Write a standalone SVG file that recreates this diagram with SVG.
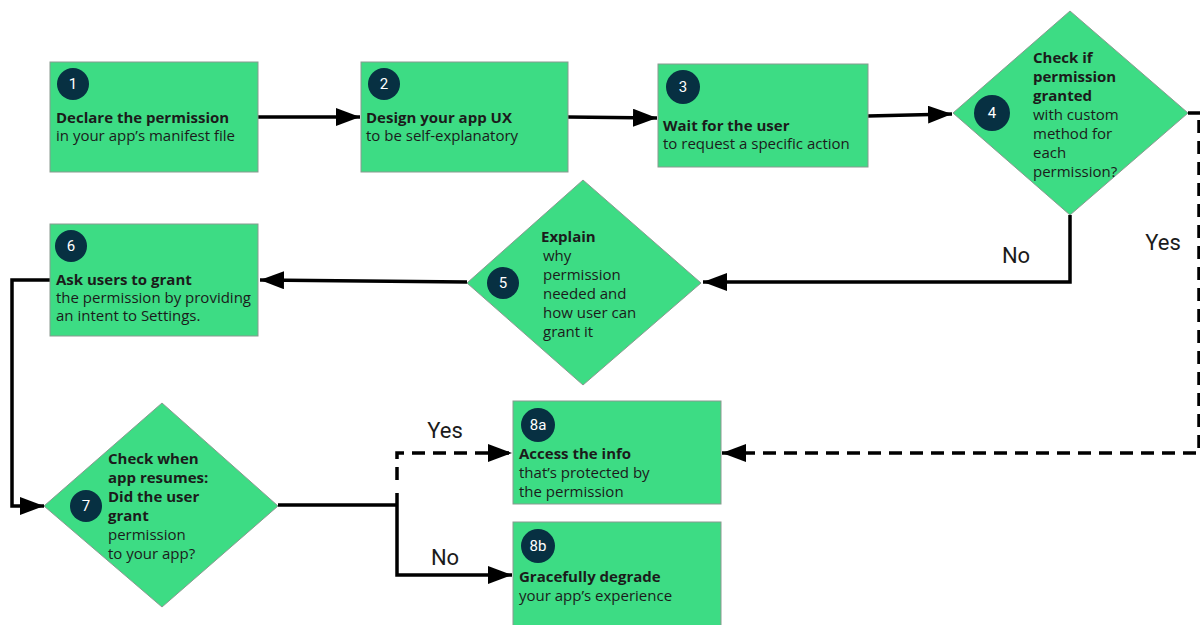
<svg xmlns="http://www.w3.org/2000/svg" width="1200" height="625" viewBox="0 0 1200 625">
<defs>
<style>
.box{fill:#3ddc84;stroke:#8a9a90;stroke-width:1}
.num{fill:#073042}
.numt{fill:#ffffff;font-family:Roboto,"Liberation Sans",sans-serif;font-size:15px;text-anchor:middle}
.t{fill:#1b1b1b;font-family:"Open Sans","Liberation Sans",sans-serif;font-size:15px}
.b{font-weight:bold}
.ln{fill:none;stroke:#000;stroke-width:3.5}
.dash{stroke-dasharray:13 8}
.lbl{fill:#1b1b1b;font-family:Roboto,"Liberation Sans",sans-serif;font-size:22px;text-anchor:middle}
</style>
<marker id="ah" markerUnits="userSpaceOnUse" markerWidth="24" markerHeight="18" refX="24" refY="9" orient="auto">
<path d="M0,0 L24,9 L0,18 z" fill="#000"/>
</marker>
</defs>
<rect width="1200" height="625" fill="#fff"/>

<g id="connectors">
<line class="ln" x1="258" y1="117" x2="360" y2="117" marker-end="url(#ah)"/>
<line class="ln" x1="568" y1="117" x2="657" y2="118" marker-end="url(#ah)"/>
<line class="ln" x1="868" y1="116" x2="952" y2="114" marker-end="url(#ah)"/>
<polyline class="ln" points="1188,113 1200,113"/>
<polyline class="ln dash" points="1199,120 1199,453 722,453" marker-end="url(#ah)"/>
<polyline class="ln" points="1070,215 1070,282 703,282" marker-end="url(#ah)"/>
<line class="ln" x1="467" y1="282" x2="260" y2="280" marker-end="url(#ah)"/>
<polyline class="ln" points="50,280 12,280 12,506 44,506" marker-end="url(#ah)"/>
<polyline class="ln" points="278,505 397,505"/>
<polyline class="ln" points="397,493 397,575 512,575" marker-end="url(#ah)"/>
<polyline class="ln dash" points="397,480 397,453 512,453" marker-end="url(#ah)"/>
<text class="lbl" x="1163" y="250">Yes</text>
<text class="lbl" x="1016" y="263">No</text>
<text class="lbl" x="445" y="438">Yes</text>
<text class="lbl" x="445" y="565">No</text>
</g>

<g id="n1">
<rect class="box" x="50" y="62" width="208" height="110"/>
<circle class="num" cx="73" cy="84" r="16"/>
<text class="numt" x="73" y="89">1</text>
<text class="t b" x="56" y="123">Declare the permission</text>
<text class="t" x="56" y="141">in your app’s manifest file</text>
</g>

<g id="n2">
<rect class="box" x="361" y="62" width="207" height="110"/>
<circle class="num" cx="384" cy="84" r="16"/>
<text class="numt" x="384" y="89">2</text>
<text class="t b" x="366" y="123">Design your app UX</text>
<text class="t" x="366" y="141">to be self-explanatory</text>
</g>

<g id="n3">
<rect class="box" x="658" y="64" width="210" height="103"/>
<circle class="num" cx="683" cy="87" r="17"/>
<text class="numt" x="683" y="92">3</text>
<text class="t b" x="663" y="131">Wait for the user</text>
<text class="t" x="663" y="149">to request a specific action</text>
</g>

<g id="n4">
<polygon class="box" points="953,113 1070,11 1188,113 1070,215"/>
<circle class="num" cx="992" cy="113" r="18"/>
<text class="numt" x="992" y="118">4</text>
<text class="t b" x="1033" y="63">Check if</text>
<text class="t b" x="1033" y="82">permission</text>
<text class="t b" x="1033" y="101">granted</text>
<text class="t" x="1033" y="120">with custom</text>
<text class="t" x="1033" y="139">method for</text>
<text class="t" x="1033" y="158">each</text>
<text class="t" x="1033" y="177">permission?</text>
</g>

<g id="n5">
<polygon class="box" points="467,283 583,180 701,283 583,385"/>
<circle class="num" cx="503" cy="283" r="16"/>
<text class="numt" x="503" y="288">5</text>
<text class="t b" x="541" y="242">Explain</text>
<text class="t" x="543" y="261">why</text>
<text class="t" x="543" y="280">permission</text>
<text class="t" x="543" y="299">needed and</text>
<text class="t" x="543" y="318">how user can</text>
<text class="t" x="543" y="337">grant it</text>
</g>

<g id="n6">
<rect class="box" x="50" y="224" width="208" height="112"/>
<circle class="num" cx="71" cy="246" r="16"/>
<text class="numt" x="71" y="251">6</text>
<text class="t b" x="56" y="285">Ask users to grant</text>
<text class="t" x="56" y="303">the permission by providing</text>
<text class="t" x="56" y="321">an intent to Settings.</text>
</g>

<g id="n7">
<polygon class="box" points="44,506 162,403 278,506 162,607"/>
<circle class="num" cx="86" cy="506" r="16"/>
<text class="numt" x="86" y="511">7</text>
<text class="t b" x="108" y="464">Check when</text>
<text class="t b" x="108" y="483">app resumes:</text>
<text class="t b" x="108" y="502">Did the user</text>
<text class="t b" x="108" y="521">grant</text>
<text class="t" x="108" y="540">permission</text>
<text class="t" x="108" y="559">to your app?</text>
</g>

<g id="n8a">
<rect class="box" x="513" y="401" width="208" height="103"/>
<circle class="num" cx="538" cy="425" r="17"/>
<text class="numt" x="538" y="430">8a</text>
<text class="t b" x="519" y="459">Access the info</text>
<text class="t" x="519" y="478">that’s protected by</text>
<text class="t" x="519" y="497">the permission</text>
</g>

<g id="n8b">
<rect class="box" x="513" y="522" width="208" height="110"/>
<circle class="num" cx="538" cy="546" r="17"/>
<text class="numt" x="538" y="551">8b</text>
<text class="t b" x="519" y="582">Gracefully degrade</text>
<text class="t" x="519" y="601">your app’s experience</text>
</g>
</svg>
